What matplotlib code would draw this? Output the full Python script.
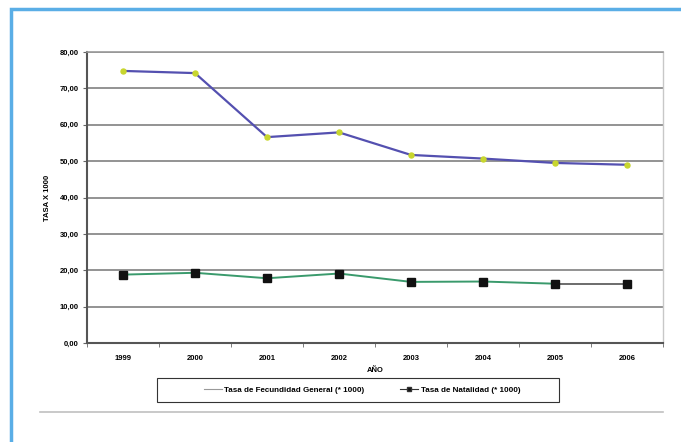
import matplotlib.pyplot as plt
from matplotlib.patches import Rectangle
from matplotlib.lines import Line2D
import numpy as np

# Data
years = ['1999', '2000', '2001', '2002', '2003', '2004', '2005', '2006']
fecundidad = [74.8, 74.2, 56.6, 57.9, 51.7, 50.7, 49.5, 49.0]
natalidad = [18.8, 19.3, 17.8, 19.1, 16.8, 16.9, 16.3, 16.3]
ytick_vals = [0, 10, 20, 30, 40, 50, 60, 70, 80]
ytick_labels = ['0,00', '10,00', '20,00', '30,00', '40,00', '50,00', '60,00', '70,00', '80,00']

plt.rcParams['font.family'] = ['Liberation Sans', 'DejaVu Sans']
plt.rcParams['font.weight'] = 'bold'

fig = plt.figure(figsize=(6.81, 4.42), dpi=100)
ax = fig.add_axes([87 / 681, 1 - 343 / 442, (663 - 87) / 681, (343 - 52) / 442])

x = np.arange(len(years))

# grid lines
for v in ytick_vals[1:]:
    ax.axhline(v, color='#8a8a8a', lw=1.3, zorder=1)

ax.plot(x, fecundidad, color='#5450b0', lw=1.6, marker='o', markersize=3.6,
        markerfacecolor='#c8d62e', markeredgecolor='#c8d62e', zorder=3)
ax.plot(x[:-1], natalidad[:-1], color='#3a9a6c', lw=1.4, zorder=3)
ax.plot(x[-2:], natalidad[-2:], color='#444444', lw=1.1, zorder=3)
ax.plot(x, natalidad, lw=0, marker='s', markersize=5.5, color='#111111', zorder=4)

ax.set_xlim(-0.5, len(years) - 0.5)
ax.set_ylim(0, 80)
ax.set_yticks(ytick_vals)
ax.set_yticklabels(ytick_labels, fontsize=5.5, fontweight='bold')
ax.set_xticks(x)
ax.set_xticklabels(years, fontsize=5.5, fontweight='bold')
ax.set_xticks(np.arange(len(years) + 1) - 0.5, minor=True)
ax.tick_params(axis='x', which='major', length=0, pad=9)
ax.tick_params(axis='x', which='minor', length=3, color='#666666')
ax.tick_params(axis='y', length=3, color='#666666', pad=3)

ax.set_ylabel('TASA X 1000', fontsize=5.5, fontweight='bold', labelpad=6)
ax.set_xlabel('AÑO', fontsize=5.5, fontweight='bold', labelpad=3)

for side in ['left', 'bottom']:
    ax.spines[side].set_color('#555555')
    ax.spines[side].set_linewidth(1.5)
ax.spines['top'].set_color('#999999')
ax.spines['top'].set_linewidth(1.2)
ax.spines['right'].set_color('#c8c8c8')
ax.spines['right'].set_linewidth(1.0)

handles = [
    Line2D([], [], color='#999999', lw=0.8),
    Line2D([], [], color='#333333', lw=0.8, marker='s', markersize=3,
           markerfacecolor='#111111'),
]
labels = ['Tasa de Fecundidad General (* 1000)', 'Tasa de Natalidad (* 1000)']
fig.legend(handles, labels, loc='center', bbox_to_anchor=(362 / 681, 1 - 390 / 442),
           ncol=2, frameon=False, handlelength=2.2, handletextpad=0.3,
           columnspacing=4.5, prop={'weight': 'bold', 'size': 5.8})
# legend box
fig.patches.append(Rectangle((157 / 681, 1 - 402 / 442), (559 - 157) / 681, 24 / 442,
                             transform=fig.transFigure, fill=False,
                             edgecolor='#333333', lw=0.8))

# outer blue frame and bottom rule
fig.patches.append(Rectangle((11 / 681, -0.05), 1.2, 1 - 9 / 442 + 0.05,
                             transform=fig.transFigure, fill=False,
                             edgecolor='#5aaee6', lw=2.5))
fig.lines.append(Line2D([40 / 681, 663 / 681], [1 - 412 / 442, 1 - 412 / 442],
                        transform=fig.transFigure, color='#c0c0c0', lw=1.2))

fig.savefig('out.png', dpi=100)
